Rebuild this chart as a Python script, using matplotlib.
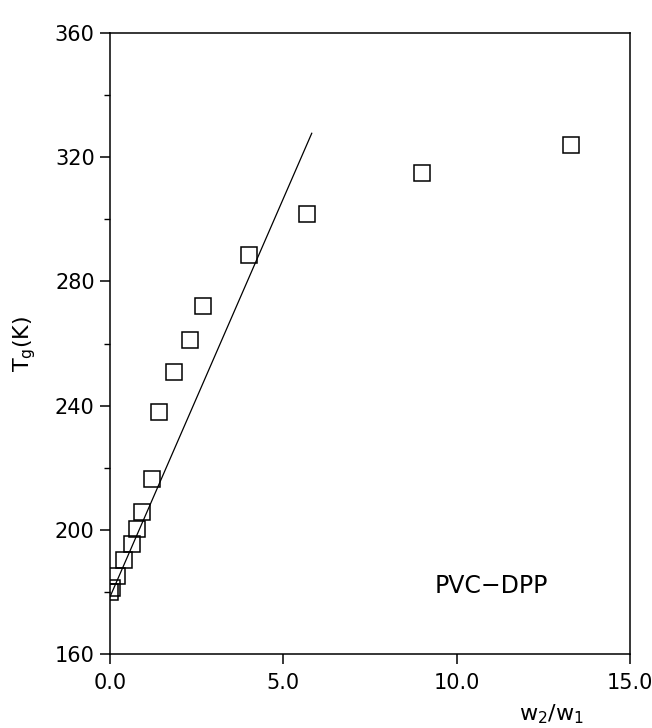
import numpy as np
from matplotlib import pyplot as plt
from matplotlib.ticker import MultipleLocator

# ratio w2/w1 and glass transition temperature (K)
ratio = [0.0, 0.05, 0.20, 0.41, 0.64, 0.77, 0.92, 1.20, 1.42, 1.85, 2.32, 2.69, 4.0, 5.67, 9.01, 13.31]
tg = [180.1, 181.2, 185.1, 190.3, 195.5, 200.4, 205.6, 216.3, 237.8, 250.8, 261.0, 272.1, 288.5, 301.7, 314.8, 324.0]

# straight line drawn through the low-ratio points
fit_x = [0.0, 5.82]
fit_y = [178.4, 327.7]

x_ticks = [0, 5, 10, 15]
x_ticklabels = ['0.0', '5.0', '10.0', '15.0']
y_ticks = [160, 200, 240, 280, 320, 360]

plt.rcParams['font.family'] = ['DejaVu Sans']
plt.rcParams['mathtext.fontset'] = 'dejavusans'

fig = plt.figure(figsize=(6.52, 7.28), dpi=100)
ax = fig.add_axes([0.1687, 0.1016, 0.7975, 0.8531])

ax.plot(fit_x, fit_y, 'k-', lw=0.9)
ax.plot(ratio, tg, 's', ms=12, mfc='none', mec='black', mew=1.1)

ax.set_xlim(0, 15)
ax.set_ylim(160, 360)
ax.set_xticks(x_ticks)
ax.set_xticklabels(x_ticklabels)
ax.set_yticks(y_ticks)
ax.yaxis.set_minor_locator(MultipleLocator(20))
ax.tick_params(axis='both', which='major', direction='out', length=7, width=1.1, labelsize=15, pad=4)
ax.tick_params(axis='x', which='major', pad=7)
ax.tick_params(axis='y', which='minor', direction='out', length=4.5, width=1.0)
for s in ax.spines.values():
    s.set_linewidth(1.1)

ax.text(9.37, 178, 'PVC\u2212DPP', fontsize=17, ha='left', va='bottom')

ax.set_ylabel('T$_\\mathregular{g}$(K)', fontsize=16, labelpad=12)
ax.set_xlabel('w$_\\mathregular{2}$/w$_\\mathregular{1}$', fontsize=16)
ax.xaxis.set_label_coords(0.85, -0.078)

plt.savefig('out.png', dpi=100)
